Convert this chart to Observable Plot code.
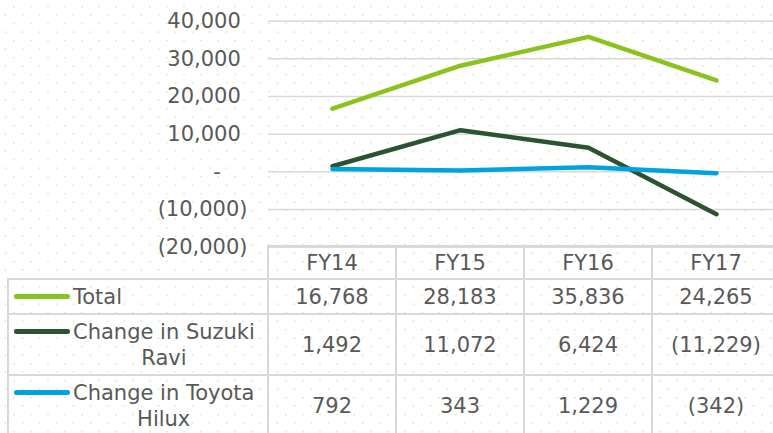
<!DOCTYPE html>
<html>
<head>
<meta charset="utf-8">
<script src="https://cdn.jsdelivr.net/npm/d3@7"></script>
<script src="https://cdn.jsdelivr.net/npm/@observablehq/plot@0.6"></script>
<style>
html, body { margin: 0; padding: 0; background: #ffffff; }
#chart {
  position: relative; width: 773px; height: 433px; overflow: hidden;
  font-family: "DejaVu Sans", Verdana, sans-serif; color: #595959;
  background-color: #ffffff;
  background-image: url("data:image/svg+xml,%3Csvg xmlns='http://www.w3.org/2000/svg' width='17' height='17'%3E%3Crect x='13.2' y='5.8' width='1.6' height='1.6' fill='%23d6eac8'/%3E%3Crect x='4.7' y='14.3' width='1.6' height='1.6' fill='%23d6eac8'/%3E%3C/svg%3E");
}
#chart svg { position: absolute; left: 0; top: 0; }
.cell {
  position: absolute; box-sizing: border-box;
  border-left: 2px solid #d9d9d9; border-top: 2px solid #d9d9d9;
  display: flex; align-items: center; justify-content: center;
  font-size: 21px; white-space: nowrap;
}
.legend { justify-content: flex-start; }
.lab { position: relative; display: inline-block; margin-left: 64px; text-align: center; line-height: 26px; }
.sw { position: absolute; left: -59px; top: 10.75px; width: 56px; height: 4.5px; border-radius: 2.25px; }
</style>
</head>
<body>
<div id="chart"></div>
<script>
// ---- data ----
const years = ["FY14", "FY15", "FY16", "FY17"];
const total = [16768, 28183, 35836, 24265];
const suzuki = [1492, 11072, 6424, -11229];
const toyota = [792, 343, 1229, -342];
const seriesNames = ["Total", "Change in Suzuki Ravi", "Change in Toyota Hilux"];
const legendLines = [["Total"], ["Change in Suzuki", "Ravi"], ["Change in Toyota", "Hilux"]];
const seriesColors = ["#8cc21f", "#2b5331", "#00a3e0"];
const yTicks = [-20000, -10000, 0, 10000, 20000, 30000, 40000];

const seriesValues = [total, suzuki, toyota];
const rows = [];
seriesNames.forEach((s, i) => years.forEach((y, j) => rows.push({series: s, year: y, value: seriesValues[i][j]})));

const comma = d3.format(",");
const axisFmt = v => v === 0 ? "-\u2007\u2007" : v < 0 ? `(${comma(-v)})` : comma(v) + "\u2008";
const cellFmt = v => v < 0 ? `(${comma(-v)})` : comma(v);

const plot = Plot.plot({
  width: 773, height: 433,
  marginTop: 20.7, marginBottom: 186.3, marginLeft: 268, marginRight: 0,
  style: {background: "transparent", fontFamily: "DejaVu Sans, Verdana, sans-serif", fontSize: "21px", color: "#595959", overflow: "visible"},
  x: {type: "band", domain: years, range: [268, 780], padding: 0, axis: null},
  y: {domain: [-20000, 40000], ticks: yTicks, tickFormat: axisFmt, tickSize: 0, tickPadding: 21, label: null},
  color: {domain: seriesNames, range: seriesColors},
  marks: [
    Plot.ruleY(yTicks, {stroke: "#d9d9d9", strokeWidth: 1.5}),
    Plot.line(rows, {x: "year", y: "value", z: "series", stroke: "series", strokeWidth: 4.5, strokeLinecap: "round", strokeLinejoin: "round"})
  ]
});
const chart = document.getElementById("chart");
chart.appendChild(plot);

// ---- data table below the plot, aligned to the x band scale ----
const xs = plot.scale("x");
const bw = xs.bandwidth;
const headerTop = 246;
const rowLines = [279, 314, 375, 436];
const tableLeft = 8;

function cell(left, top, width, height, cls) {
  const d = document.createElement("div");
  d.className = "cell" + (cls ? " " + cls : "");
  Object.assign(d.style, {left: (left - 1) + "px", top: (top - 1) + "px", width: width + "px", height: height + "px"});
  chart.appendChild(d);
  return d;
}

years.forEach(y => {
  const x0 = xs.apply(y);
  cell(x0, headerTop, bw, rowLines[0] - headerTop).textContent = y;
});

seriesNames.forEach((s, i) => {
  const top = rowLines[i], h = rowLines[i + 1] - rowLines[i];
  const lc = cell(tableLeft, top, xs.apply(years[0]) - tableLeft, h, "legend");
  const lab = document.createElement("div");
  lab.className = "lab";
  const sw = document.createElement("span");
  sw.className = "sw";
  sw.style.background = seriesColors[i];
  lab.appendChild(sw);
  legendLines[i].forEach((t, k) => {
    if (k) lab.appendChild(document.createElement("br"));
    lab.appendChild(document.createTextNode(t));
  });
  lc.appendChild(lab);
  years.forEach((y, j) => {
    cell(xs.apply(y), top, bw, h).textContent = cellFmt(seriesValues[i][j]);
  });
});
</script>
</body>
</html>
